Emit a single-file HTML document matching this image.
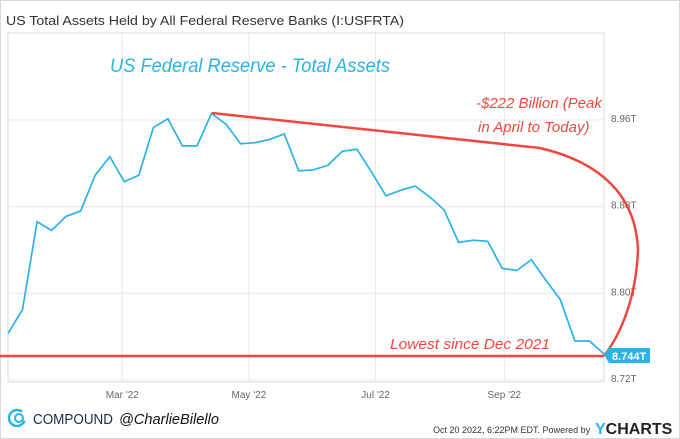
<!DOCTYPE html>
<html><head><meta charset="utf-8"><style>
body{margin:0;background:#fff;font-family:"Liberation Sans",sans-serif}
#wrap{position:relative;width:680px;height:439px;overflow:hidden}
</style></head><body>
<div id="wrap">
<svg id="svg" width="680" height="439">
<rect x="0.5" y="0.5" width="679" height="438" fill="#fff" stroke="#d8d8d8"/>
<text x="6" y="25" font-size="12.5" fill="#333" textLength="398" lengthAdjust="spacingAndGlyphs">US Total Assets Held by All Federal Reserve Banks (I:USFRTA)</text>
<rect x="8" y="33" width="596" height="349" fill="none" stroke="#ddd"/>
<g id="grid"></g>
<g id="series"></g>
<text x="110" y="72" font-size="19" fill="#29b3e6" font-style="italic" textLength="280" lengthAdjust="spacingAndGlyphs">US Federal Reserve  - Total Assets</text>
<text x="476" y="108" font-size="15" fill="#f0483e" font-style="italic">-$222 Billion (Peak</text>
<text x="478" y="132" font-size="15" fill="#f0483e" font-style="italic">in April to Today)</text>
<text x="390" y="349" font-size="15" fill="#f0483e" font-style="italic" textLength="160" lengthAdjust="spacingAndGlyphs">Lowest since Dec 2021</text>
<line x1="0" y1="356" x2="604" y2="356" stroke="#f0483e" stroke-width="2.5"/>
<path d="M212,113 L540,148 C600,162 636,195 638,250 C636,300 620,335 604,356" fill="none" stroke="#f0483e" stroke-width="2.5"/>
<g>
<path d="M604,355 L609,348 L650,348 L650,363 L609,363 Z" fill="#29b3e6"/>
<text x="612" y="360" font-size="11" font-weight="bold" fill="#fff">8.744T</text></g>
<g>
<circle cx="17" cy="418" r="8" fill="none" stroke="#29b3e6" stroke-width="2.5" stroke-dasharray="40 10" transform="rotate(20 17 418)"/>
<circle cx="19" cy="418" r="4" fill="none" stroke="#29b3e6" stroke-width="2"/>
</g>
<text x="33" y="424" font-size="15" fill="#1c2b4a" textLength="80" lengthAdjust="spacingAndGlyphs">COMPOUND</text>
<text x="119" y="424" font-size="15" fill="#111" font-style="italic" textLength="100" lengthAdjust="spacingAndGlyphs">@CharlieBilello</text>
<text x="433" y="433" font-size="9" fill="#333">Oct 20 2022, 6:22PM EDT.  Powered by</text>
<text x="595" y="434" font-size="16" font-weight="bold" fill="#222"><tspan fill="#29b3e6">Y</tspan>CHARTS</text>
</svg>
</div>
<script>
const dates=["2022-01-05","2022-01-12","2022-01-19","2022-01-26","2022-02-02","2022-02-09","2022-02-16","2022-02-23","2022-03-02","2022-03-09","2022-03-16","2022-03-23","2022-03-30","2022-04-06","2022-04-13","2022-04-20","2022-04-27","2022-05-04","2022-05-11","2022-05-18","2022-05-25","2022-06-01","2022-06-08","2022-06-15","2022-06-22","2022-06-29","2022-07-06","2022-07-13","2022-07-20","2022-07-27","2022-08-03","2022-08-10","2022-08-17","2022-08-24","2022-08-31","2022-09-07","2022-09-14","2022-09-21","2022-09-28","2022-10-05","2022-10-12","2022-10-19"];
const values=[8.763,8.785,8.866,8.858,8.871,8.876,8.909,8.926,8.903,8.909,8.953,8.961,8.936,8.936,8.966,8.956,8.938,8.939,8.942,8.947,8.913,8.914,8.918,8.931,8.933,8.912,8.890,8.895,8.899,8.889,8.877,8.847,8.849,8.848,8.823,8.821,8.831,8.812,8.794,8.756,8.756,8.744];
const yTicks=[8.72,8.80,8.88,8.96];
const yTickLabels=["8.72T","8.80T","8.88T","8.96T"];
const xTicks=["2022-03-01","2022-05-01","2022-07-01","2022-09-01"];
const xTickLabels=["Mar '22","May '22","Jul '22","Sep '22"];
const NS="http://www.w3.org/2000/svg";
const t0=Date.parse("2022-01-05"),t1=Date.parse("2022-10-19");
function X(d){return 8+(Date.parse(d)-t0)/(t1-t0)*596;}
function Y(v){return 380-(v-8.72)/0.08*86.7;}
const grid=document.getElementById('grid');
yTicks.forEach((v,i)=>{
 const l=document.createElementNS(NS,'line');
 l.setAttribute('x1',8);l.setAttribute('x2',604);l.setAttribute('y1',Y(v));l.setAttribute('y2',Y(v));
 l.setAttribute('stroke','#e8e8e8');
 
 
 grid.appendChild(l);
 const t=document.createElementNS(NS,'text');
 t.setAttribute('x',611);t.setAttribute('y',Y(v)+2);t.setAttribute('font-size','10');t.setAttribute('fill','#666');
 t.textContent=yTickLabels[i];
 
 
 grid.appendChild(t);
});
xTicks.forEach((d,i)=>{
 const l=document.createElementNS(NS,'line');
 l.setAttribute('x1',X(d));l.setAttribute('x2',X(d));l.setAttribute('y1',33);l.setAttribute('y2',382);
 l.setAttribute('stroke','#e8e8e8');
 
 
 grid.appendChild(l);
 const t=document.createElementNS(NS,'text');
 t.setAttribute('x',X(d));t.setAttribute('y',398);t.setAttribute('font-size','10');t.setAttribute('fill','#666');t.setAttribute('text-anchor','middle');
 t.textContent=xTickLabels[i];
 
 
 grid.appendChild(t);
});
const p=document.createElementNS(NS,'polyline');
p.setAttribute('points',dates.map((d,i)=>X(d).toFixed(1)+','+Y(values[i]).toFixed(1)).join(' '));
p.setAttribute('fill','none');p.setAttribute('stroke','#29b3e6');p.setAttribute('stroke-width','1.7');


document.getElementById('series').appendChild(p);
</script>
</body></html>
